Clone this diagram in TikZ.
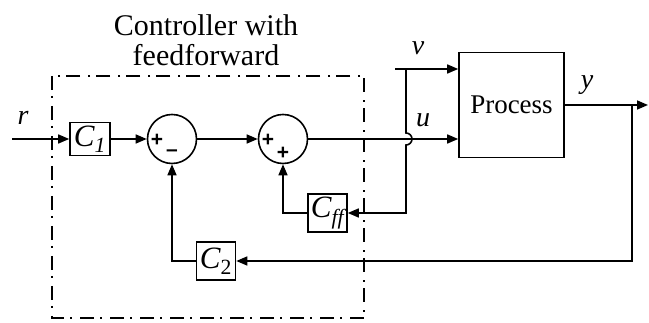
\documentclass[tikz,border=0pt]{standalone}
\usepackage{fontspec}
\setmainfont{Liberation Serif}
\setsansfont{Liberation Sans}
\usetikzlibrary{arrows.meta,positioning}
\definecolor{cfedge}{RGB}{0,0,0}
\tikzset{
  blk/.style={
    draw=cfedge, line width=1.6pt, inner sep=0pt,
    minimum width=39pt, minimum height=38pt,
    font=\fontsize{31}{31}\selectfont\itshape
  },
  sumnode/.style={circle, draw=cfedge, line width=1.6pt, minimum size=49pt, inner sep=0pt},
  sgn/.style={font=\fontsize{21}{21}\selectfont\sffamily\bfseries, inner sep=0pt},
  sig/.style={font=\fontsize{28}{28}\selectfont\itshape, inner sep=0pt},
  arr/.style={-{Triangle[length=11pt,width=9pt]}, draw=cfedge, line width=1.6pt},
  grp/.style={draw=cfedge, line width=1.3pt, dash pattern=on 14pt off 6pt on 2pt off 8pt},
  every picture/.append style={line join=miter}
}
\begin{document}
\begin{tikzpicture}[x=1pt,y=1pt]
  \useasboundingbox (0,0) rectangle (649,323);
  % controller group
  \draw[grp] (52,247) rectangle (364,5);
  \node[align=center, font=\fontsize{30}{30}\selectfont] (ttl) at (206,283) {Controller with\\feedforward};
  % blocks
  \coordinate (rin) at (12,184);
  \node[blk, minimum width=40pt, minimum height=33pt] (c1) at (90,184) {C\textsubscript{1}};
  \node[sumnode] (s1) at (172,184) {};
  \node[sumnode] (s2) at (283,184) {};
  \node[blk, minimum width=105pt, minimum height=105pt, font=\fontsize{27}{27}\selectfont] (proc) at (511.5,218) {Process};
  \node[blk] (cff) at (327.5,110) {C\textsubscript{ff}};
  \node[blk] (c2) at (216,62) {C\textsubscript{\upshape 2}};
  % signs
  \node[sgn] (s1a) at (157,183) {+};
  \node[sgn] (s1b) at (172,170) {\textendash};
  \node[sgn] (s2a) at (268,183) {+};
  \node[sgn] (s2b) at (283,170) {+};
  % signal labels
  \node[sig] (lr) at (23,205) {r};
  \node[sig] (lv) at (418,275) {v};
  \node[sig] (lu) at (423,203) {u};
  \node[sig] (ly) at (587,238) {y};
  % forward path
  \draw[arr] (rin) -- (c1);
  \draw[arr] (c1) -- (s1);
  \draw[arr] (s1) -- (s2);
  \draw[arr] (s2.east) -- (s2.east -| proc.west);
  % disturbance and feedforward
  \coordinate (vin) at (395,254);
  \coordinate (vtap) at (406,254);
  \draw[arr] (vin) -- (vin -| proc.west);
  \draw[arr] (vtap) -- (406,190) arc[start angle=90, end angle=-90, radius=6pt] -- (vtap |- cff) -- (cff);
  \draw[arr] (cff) -| (s2);
  % output and feedback
  \coordinate (yout) at (648,218);
  \coordinate (ybr) at (632,218);
  \draw[arr] (proc.east) -- (yout);
  \draw[arr] (ybr) |- (c2);
  \draw[arr] (c2) -| (s1);
\end{tikzpicture}
\end{document}
